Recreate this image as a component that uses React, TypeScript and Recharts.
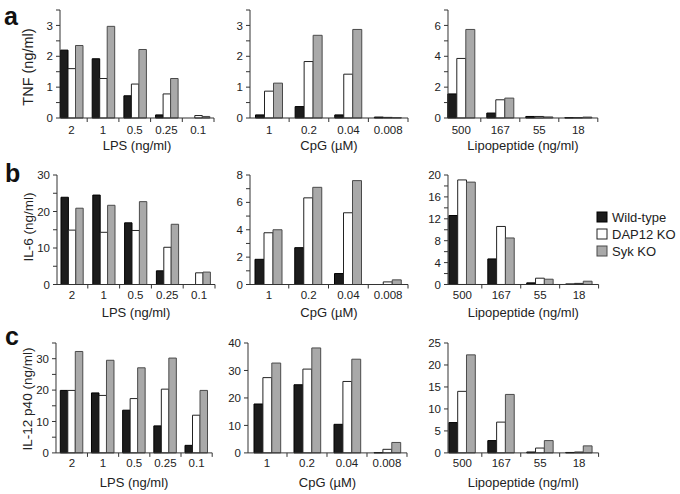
import React from 'react';
import { BarChart, Bar, XAxis, YAxis } from 'recharts';

// ---- categories ----
const lpsDoses = ['2', '1', '0.5', '0.25', '0.1'];
const cpgDoses = ['1', '0.2', '0.04', '0.008'];
const lipoDoses = ['500', '167', '55', '18'];

const seriesNames = ['Wild-type', 'DAP12 KO', 'Syk KO'];
const seriesFill = ['#1c1c1c', '#ffffff', '#a9a9a9'];
const seriesStroke = ['#000000', '#222222', '#4a4a4a'];

// ---- TNF (ng/ml) ----
const tnfLpsWT = [2.2, 1.92, 0.72, 0.1, 0];
const tnfLpsDAP12 = [1.6, 1.28, 1.1, 0.78, 0.08];
const tnfLpsSyk = [2.35, 2.97, 2.22, 1.28, 0.05];
const tnfCpgWT = [0.1, 0.37, 0.1, 0.03];
const tnfCpgDAP12 = [0.87, 1.83, 1.42, 0.02];
const tnfCpgSyk = [1.13, 2.68, 2.87, 0.01];
const tnfLipoWT = [1.56, 0.32, 0.1, 0.02];
const tnfLipoDAP12 = [3.86, 1.18, 0.1, 0.02];
const tnfLipoSyk = [5.74, 1.29, 0.07, 0.06];

// ---- IL-6 (ng/ml) ----
const il6LpsWT = [23.9, 24.5, 16.9, 3.75, 0];
const il6LpsDAP12 = [14.9, 14.3, 14.8, 10.2, 3.2];
const il6LpsSyk = [20.9, 21.7, 22.7, 16.5, 3.4];
const il6CpgWT = [1.84, 2.69, 0.8, 0];
const il6CpgDAP12 = [3.78, 6.33, 5.24, 0.19];
const il6CpgSyk = [4.0, 7.1, 7.59, 0.34];
const il6LipoWT = [12.6, 4.67, 0.3, 0.1];
const il6LipoDAP12 = [19.1, 10.6, 1.15, 0.2];
const il6LipoSyk = [18.7, 8.5, 0.97, 0.6];

// ---- IL-12 p40 (ng/ml) ----
const il12LpsWT = [19.9, 19.1, 13.6, 8.6, 2.4];
const il12LpsDAP12 = [19.9, 18.3, 17.3, 20.3, 12.0];
const il12LpsSyk = [32.3, 29.5, 27.1, 30.2, 19.9];
const il12CpgWT = [17.8, 24.8, 10.4, 0.1];
const il12CpgDAP12 = [27.4, 30.5, 26.0, 1.3];
const il12CpgSyk = [32.7, 38.2, 34.1, 3.8];
const il12LipoWT = [6.9, 2.8, 0.2, 0.1];
const il12LipoDAP12 = [14.0, 7.0, 1.1, 0.2];
const il12LipoSyk = [22.3, 13.3, 2.8, 1.6];

// ---- y-axis ticks ----
const ticksTnf = [0, 0.5, 1, 1.5, 2, 2.5, 3, 3.5];
const labelsTnf = [0, 1, 2, 3];
const ticksTnfLipo = [0, 1, 2, 3, 4, 5, 6, 7];
const labelsTnfLipo = [0, 2, 4, 6];
const ticksIl6Lps = [0, 5, 10, 15, 20, 25, 30];
const labelsIl6Lps = [0, 10, 20, 30];
const ticksIl6Cpg = [0, 1, 2, 3, 4, 5, 6, 7, 8];
const labelsIl6Cpg = [0, 2, 4, 6, 8];
const ticksIl6Lipo = [0, 2, 4, 6, 8, 10, 12, 14, 16, 18, 20];
const labelsIl6Lipo = [0, 4, 8, 12, 16, 20];
const ticksIl12Lps = [0, 5, 10, 15, 20, 25, 30, 35];
const labelsIl12Lps = [0, 10, 20, 30];
const ticksIl12Cpg = [0, 10, 20, 30, 40];
const labelsIl12Cpg = [0, 10, 20, 30, 40];
const ticksIl12Lipo = [0, 5, 10, 15, 20, 25];
const labelsIl12Lipo = [0, 5, 10, 15, 20, 25];

const FONT = '"Liberation Sans", Arial, Helvetica, sans-serif';
const INK = '#222';

function buildRows(doses: string[], wt: number[], dap: number[], syk: number[]) {
  return doses.map((d, i) => ({ dose: d, wt: wt[i], dap: dap[i], syk: syk[i] }));
}

type PanelProps = {
  doses: string[];
  wt: number[];
  dap: number[];
  syk: number[];
  axisX: number;
  plotRight: number;
  bandStart: number;
  plotTop: number;
  plotBottom: number;
  domainMax: number;
  ticks: number[];
  labels: number[];
  barSize: number;
  xTitle: string;
  tickDy: number;
  titleOffset: number;
};

const YW = 45;
const XH = 42;

function Panel(p: PanelProps) {
  const data = buildRows(p.doses, p.wt, p.dap, p.syk);
  const boxLeft = p.axisX - YW;
  const boxTop = p.plotTop - 5;
  const width = p.plotRight + 5 - boxLeft;
  const height = p.plotBottom + XH - boxTop;
  const band = (p.plotRight - p.bandStart) / p.doses.length;
  const half = band / 2;
  const XTick = (props: any) => {
    const { x, y, payload } = props;
    const axisY = y - 6;
    return (
      <g>
        <line x1={x + half} x2={x + half} y1={axisY} y2={axisY + 4} stroke="#333" strokeWidth={1} />
        <text x={x} y={axisY + p.tickDy} textAnchor="middle" fontSize={11.5} fill={INK} fontFamily={FONT}>
          {payload.value}
        </text>
      </g>
    );
  };
  return (
    <div style={{ position: 'absolute', left: boxLeft, top: boxTop, width, height }}>
      <BarChart
        width={width}
        height={height}
        data={data}
        margin={{ top: 5, right: 5, left: 0, bottom: 0 }}
        barGap={0}
      >
        <XAxis
          dataKey="dose"
          type="category"
          interval={0}
          height={XH}
          padding={{ left: p.bandStart - p.axisX, right: 0 }}
          axisLine={{ stroke: '#333', strokeWidth: 1 }}
          tickLine={false}
          tickSize={4}
          tickMargin={2}
          tick={XTick}
          label={{ value: p.xTitle, position: 'insideTop', offset: p.titleOffset, fill: INK, fontSize: 13, fontFamily: FONT }}
        />
        <YAxis
          type="number"
          width={YW}
          domain={[0, p.domainMax]}
          ticks={p.ticks}
          interval={0}
          tickSize={4}
          tickMargin={3}
          axisLine={{ stroke: '#333', strokeWidth: 1 }}
          tickLine={{ stroke: '#333', strokeWidth: 1 }}
          tick={{ fontSize: 11.5, fill: INK, fontFamily: FONT }}
          tickFormatter={(v: number) => (p.labels.indexOf(v) >= 0 ? String(v) : '')}
        />
        <Bar dataKey="wt" name={seriesNames[0]} fill={seriesFill[0]} stroke={seriesStroke[0]} strokeWidth={1} barSize={p.barSize} isAnimationActive={false} />
        <Bar dataKey="dap" name={seriesNames[1]} fill={seriesFill[1]} stroke={seriesStroke[1]} strokeWidth={1} barSize={p.barSize} isAnimationActive={false} />
        <Bar dataKey="syk" name={seriesNames[2]} fill={seriesFill[2]} stroke={seriesStroke[2]} strokeWidth={1} barSize={p.barSize} isAnimationActive={false} />
      </BarChart>
    </div>
  );
}

const rowA = { plotTop: 10, plotBottom: 118, tickDy: 16, titleOffset: 22.5 };
const rowB = { plotTop: 175, plotBottom: 284.5, tickDy: 14.6, titleOffset: 23.5 };
const rowC = { plotTop: 342.8, plotBottom: 452.7, tickDy: 14.2, titleOffset: 25 };

const lpsTitle = 'LPS (ng/ml)';
const cpgTitle = 'CpG (\u00b5M)';
const lipoTitle = 'Lipopeptide (ng/ml)';

export default function App() {
  return (
    <div style={{ position: 'absolute', left: 0, top: 0, width: 680, height: 494, background: '#fff', fontFamily: FONT, overflow: 'hidden' }}>
      {/* Row a: TNF */}
      <Panel {...rowA} doses={lpsDoses} wt={tnfLpsWT} dap={tnfLpsDAP12} syk={tnfLpsSyk}
        axisX={60} plotRight={214} bandStart={55.5} domainMax={3.5} ticks={ticksTnf} labels={labelsTnf} barSize={7.5} xTitle={lpsTitle} />
      <Panel {...rowA} doses={cpgDoses} wt={tnfCpgWT} dap={tnfCpgDAP12} syk={tnfCpgSyk}
        axisX={250} plotRight={408} bandStart={249.5} domainMax={3.5} ticks={ticksTnf} labels={labelsTnf} barSize={9} xTitle={cpgTitle} />
      <Panel {...rowA} doses={lipoDoses} wt={tnfLipoWT} dap={tnfLipoDAP12} syk={tnfLipoSyk}
        axisX={447.7} plotRight={597.5} bandStart={441.5} domainMax={7} ticks={ticksTnfLipo} labels={labelsTnfLipo} barSize={9} xTitle={lipoTitle} />

      {/* Row b: IL-6 */}
      <Panel {...rowB} doses={lpsDoses} wt={il6LpsWT} dap={il6LpsDAP12} syk={il6LpsSyk}
        axisX={57} plotRight={215} bandStart={56} domainMax={30} ticks={ticksIl6Lps} labels={labelsIl6Lps} barSize={7.4} xTitle={lpsTitle} />
      <Panel {...rowB} doses={cpgDoses} wt={il6CpgWT} dap={il6CpgDAP12} syk={il6CpgSyk}
        axisX={250} plotRight={408} bandStart={249} domainMax={8} ticks={ticksIl6Cpg} labels={labelsIl6Cpg} barSize={9} xTitle={cpgTitle} />
      <Panel {...rowB} doses={lipoDoses} wt={il6LipoWT} dap={il6LipoDAP12} syk={il6LipoSyk}
        axisX={447.7} plotRight={598.3} bandStart={442.6} domainMax={20} ticks={ticksIl6Lipo} labels={labelsIl6Lipo} barSize={8.8} xTitle={lipoTitle} />

      {/* Row c: IL-12 p40 */}
      <Panel {...rowC} doses={lpsDoses} wt={il12LpsWT} dap={il12LpsDAP12} syk={il12LpsSyk}
        axisX={55.5} plotRight={211.7} bandStart={55.8} domainMax={35} ticks={ticksIl12Lps} labels={labelsIl12Lps} barSize={7.5} xTitle={lpsTitle} />
      <Panel {...rowC} doses={cpgDoses} wt={il12CpgWT} dap={il12CpgDAP12} syk={il12CpgSyk}
        axisX={248.3} plotRight={407.3} bandStart={247.3} domainMax={40} ticks={ticksIl12Cpg} labels={labelsIl12Cpg} barSize={8.9} xTitle={cpgTitle} />
      <Panel {...rowC} doses={lipoDoses} wt={il12LipoWT} dap={il12LipoDAP12} syk={il12LipoSyk}
        axisX={447.7} plotRight={598.3} bandStart={442.6} domainMax={25} ticks={ticksIl12Lipo} labels={labelsIl12Lipo} barSize={8.8} xTitle={lipoTitle} />

      <svg width={680} height={494} style={{ position: 'absolute', left: 0, top: 0, pointerEvents: 'none' }}>
        <g fontFamily={FONT} fill={INK}>
          <text x={4} y={25} fontSize={25} fontWeight="bold" fill="#111">a</text>
          <text x={5} y={182} fontSize={25} fontWeight="bold" fill="#111">b</text>
          <text x={5} y={345} fontSize={25} fontWeight="bold" fill="#111">c</text>

          <text x={28} y={67} fontSize={14.5} textAnchor="middle" dominantBaseline="central" transform="rotate(-90 28 67)">TNF (ng/ml)</text>
          <text x={28} y={227} fontSize={13.5} textAnchor="middle" dominantBaseline="central" transform="rotate(-90 28 227)">IL-6 (ng/ml)</text>
          <text x={27} y={399} fontSize={13.5} textAnchor="middle" dominantBaseline="central" transform="rotate(-90 27 399)">IL-12 p40 (ng/ml)</text>

          {seriesNames.map((name, i) => (
            <g key={name}>
              <rect x={597} y={212 + i * 17} width={10} height={10} fill={seriesFill[i]} stroke={seriesStroke[i]} strokeWidth={1} />
              <text x={612} y={221.5 + i * 17} fontSize={13} fill={INK}>{name}</text>
            </g>
          ))}
        </g>
      </svg>
    </div>
  );
}
